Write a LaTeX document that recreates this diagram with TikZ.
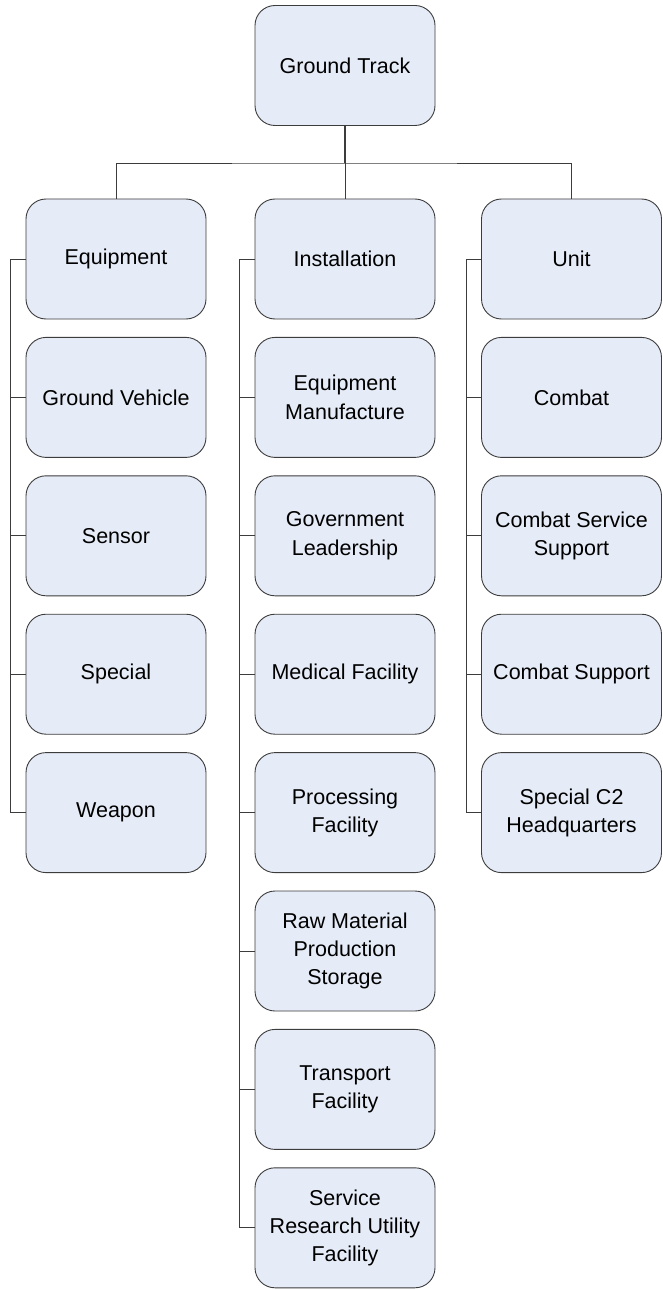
\documentclass[tikz,border=0pt]{standalone}
\usepackage{fontspec}
\setmainfont{Liberation Sans}
\definecolor{boxfill}{RGB}{230,236,247}
\definecolor{boxline}{RGB}{60,60,60}
\begin{document}
\begin{tikzpicture}[x=1pt,y=-1pt,
  box/.style={draw=boxline, line width=0.9pt, fill=boxfill, rounded corners=20pt,
    minimum width=180pt, minimum height=120pt, align=center, inner sep=2pt,
    font=\fontsize{21.5}{28.3}\selectfont},
  conn/.style={draw=boxline, line width=0.9pt}]
\useasboundingbox (0,0) rectangle (662,1289);
\node[box] (gt) at (345,65.5) {Ground Track};
% column 1
\node[box] (c1a) at (116,259) {Equipment};
\node[box] (c1b) at (116,397.4) {Ground Vehicle};
\node[box] (c1c) at (116,535.8) {Sensor};
\node[box] (c1d) at (116,674.2) {Special};
\node[box] (c1e) at (116,812.6) {Weapon};
% column 2
\node[box] (c2a) at (345,259) {Installation};
\node[box] (c2b) at (345,397.4) {Equipment\\Manufacture};
\node[box] (c2c) at (345,535.8) {Government\\Leadership};
\node[box] (c2d) at (345,674.2) {Medical Facility};
\node[box] (c2e) at (345,812.6) {Processing\\Facility};
\node[box] (c2f) at (345,951) {Raw Material\\Production\\Storage};
\node[box] (c2g) at (345,1089.4) {Transport\\Facility};
\node[box] (c2h) at (345,1227.8) {Service\\Research Utility\\Facility};
% column 3
\node[box] (c3a) at (571.5,259) {Unit};
\node[box] (c3b) at (571.5,397.4) {Combat};
\node[box] (c3c) at (571.5,535.8) {Combat Service\\Support};
\node[box] (c3d) at (571.5,674.2) {Combat Support};
\node[box] (c3e) at (571.5,812.6) {Special C2\\Headquarters};
% top connectors
\coordinate (bus) at (345,163);
\draw[conn, line width=1.3pt] (gt.south) -- (bus);
\draw[conn] (c1a.north) |- (bus) -| (c3a.north);
\draw[conn] (bus) -- (c2a.north);
% side connectors
\draw[conn] (c1a.west) -- ++(-15,0) |- (c1e.west);
\foreach \n in {c1b,c1c,c1d} \draw[conn] (\n.west) -- ++(-15,0);
\draw[conn] (c2a.west) -- ++(-15,0) |- (c2h.west);
\foreach \n in {c2b,c2c,c2d,c2e,c2f,c2g} \draw[conn] (\n.west) -- ++(-15,0);
\draw[conn] (c3a.west) -- ++(-15,0) |- (c3e.west);
\foreach \n in {c3b,c3c,c3d} \draw[conn] (\n.west) -- ++(-15,0);
\end{tikzpicture}
\end{document}
